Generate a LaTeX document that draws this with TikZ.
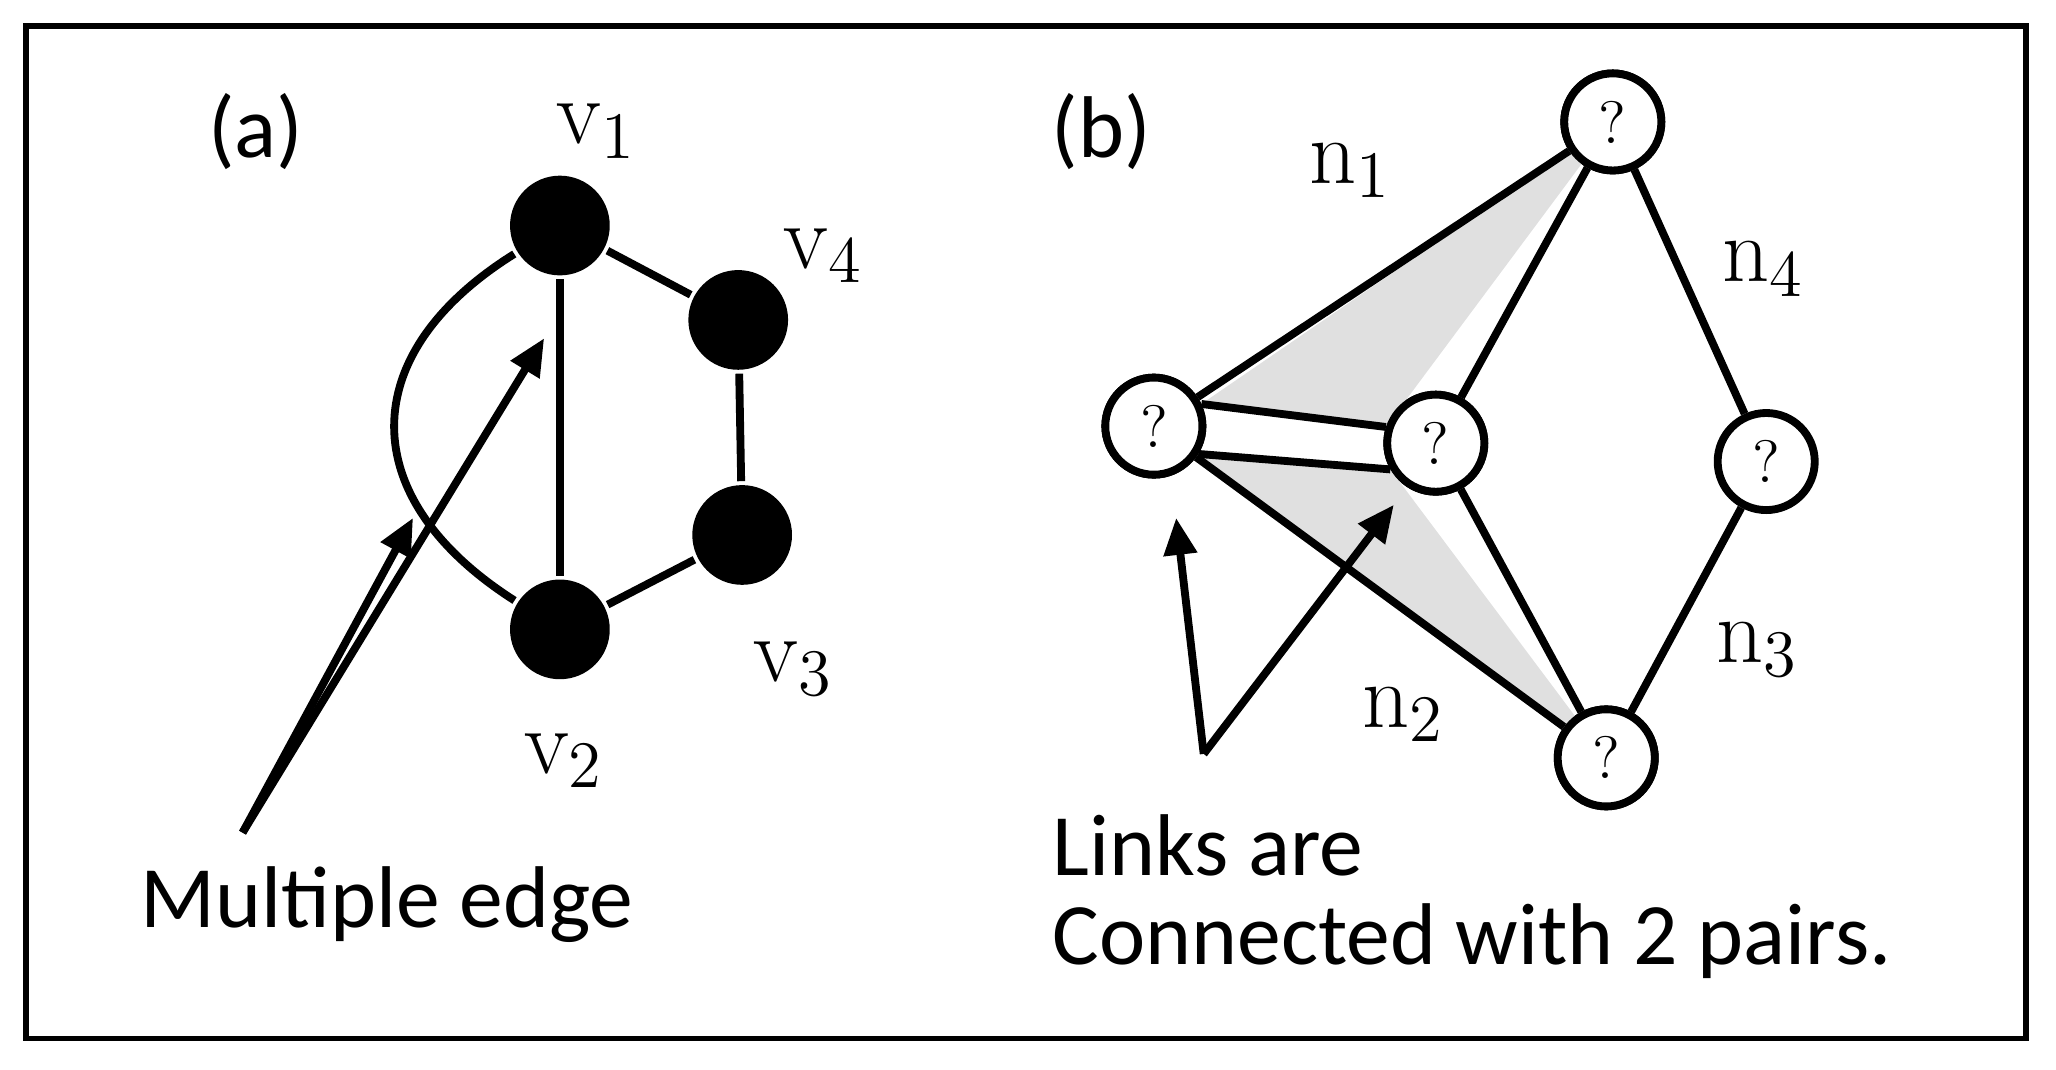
\documentclass[tikz,border=0pt]{standalone}
\usepackage{fontspec}
\newfontfamily\calib{Carlito}
\usetikzlibrary{arrows.meta}
\begin{document}
\begin{tikzpicture}[x=0.01cm, y=-0.01cm, line width=1.7pt,
    vert/.style={circle, fill=black, minimum size=0.76cm, inner sep=0pt},
    qnode/.style={circle, draw, fill=white, minimum size=0.74cm, inner sep=0pt, font=\fontsize{13}{13}\selectfont},
    lab/.style={font=\fontsize{20}{20}\selectfont},
    txt/.style={font=\calib\fontsize{19}{22}\selectfont},
    pointer/.style={-{Triangle[length=8pt,width=7pt]}}]
\useasboundingbox (0,0) rectangle (1568,816);
\draw[line width=1.2pt] (20,20) rectangle (1545,792);
% (a)
\node[txt] (pa) at (195,100) {(a)};
\node[vert] (v1) at (427,172) {};
\node[vert] (v4) at (563,244) {};
\node[vert] (v3) at (566,408) {};
\node[vert] (v2) at (427,480) {};
\node[lab] (l1) at (455,100) {v$_1$};
\node[lab] (l4) at (628,195) {v$_4$};
\node[lab] (l3) at (605,510) {v$_3$};
\node[lab] (l2) at (430,580) {v$_2$};
\draw (v1) -- (v2);
\draw (v1) -- (v4) -- (v3) -- (v2);
\draw (v1) .. controls (270,270) and (270,380) .. (v2);
\coordinate (fa) at (185,635);
\draw[pointer] (fa) -- (315,395);
\draw[pointer] (fa) -- (415,258);
\node[txt] (me) at (295,690) {Multiple edge};
% (b)
\node[txt] (pb) at (840,100) {(b)};
\node[qnode] (nt) at (1230,93) {?};
\node[qnode] (nl) at (880,325) {?};
\node[qnode] (nm) at (1095,338) {?};
\node[qnode] (nr) at (1347,352) {?};
\node[qnode] (nb) at (1225,578) {?};
\begin{scope}[on background layer/.style={}]
\fill[black!12] (nt.center) -- (nl.25) -- (nm.162) -- cycle;
\fill[black!12] (nl.-32) -- (nm.-150) -- (nb.center) -- cycle;
\end{scope}
\node[qnode] at (nt) {?};
\node[qnode] at (nl) {?};
\node[qnode] at (nm) {?};
\node[qnode] at (nb) {?};
\draw (nt) -- (nl);
\draw (nt) -- (nm);
\draw (nl.25) -- (nm.162);
\draw (nl.-32) -- (nm.-150);
\draw (nl) -- (nb);
\draw (nm) -- (nb);
\draw (nt) -- (nr) -- (nb);
\node[lab] (m1) at (1030,130) {n$_1$};
\node[lab] (m4) at (1345,205) {n$_4$};
\node[lab] (m3) at (1340,495) {n$_3$};
\node[lab] (m2) at (1070,545) {n$_2$};
\coordinate (fb) at (918,575);
\draw[pointer] (fb) -- (897,395);
\draw[pointer] (fb) -- (1063,385);
\node[txt, anchor=west] (lk) at (788,645) {Links are};
\node[txt, anchor=west] (cw) at (788,718) {Connected with 2 pairs.};
\end{tikzpicture}
\end{document}
